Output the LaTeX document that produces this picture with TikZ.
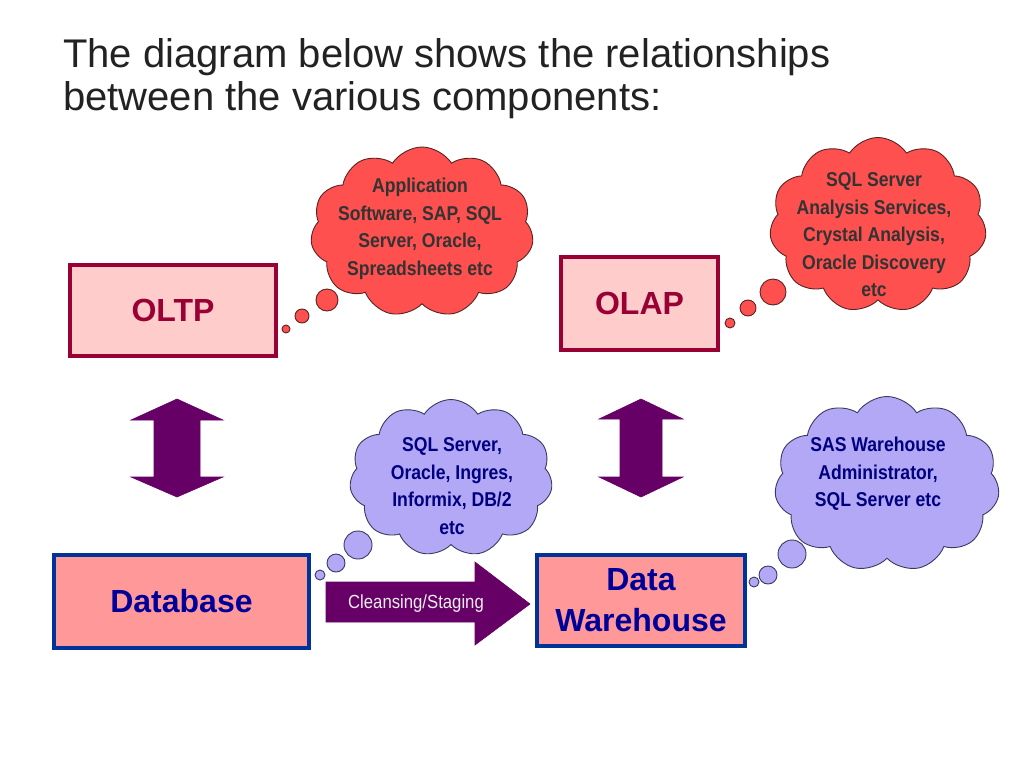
\documentclass[tikz,border=0pt]{standalone}
\usepackage{fontspec}
\setmainfont{Liberation Sans}
\newfontfamily\narrowfont[FakeStretch=0.88]{Liberation Sans}
\usetikzlibrary{shapes.symbols}
\definecolor{titlegrey}{HTML}{222222}
\definecolor{oltpred}{HTML}{990033}
\definecolor{oltpfill}{HTML}{FFCCCC}
\definecolor{dbblue}{HTML}{003399}
\definecolor{dbfill}{HTML}{FF9999}
\definecolor{dbtext}{HTML}{000099}
\definecolor{arrowpurple}{HTML}{660066}
\definecolor{cloudred}{HTML}{FF5050}
\definecolor{cloudredline}{HTML}{5A2222}
\definecolor{cloudlav}{HTML}{B3A8F5}
\definecolor{cloudlavline}{HTML}{3A3A60}
\definecolor{redtext}{HTML}{333333}
\definecolor{lavtext}{HTML}{000080}
\tikzset{
  titletext/.style={anchor=base west, inner sep=0pt, text=titlegrey, font=\fontsize{40}{43}\selectfont},
  redbox/.style={draw=oltpred, line width=4pt, fill=oltpfill, text=oltpred, inner sep=0pt,
    font=\fontsize{32}{36}\selectfont\bfseries},
  bluebox/.style={draw=dbblue, line width=4pt, fill=dbfill, text=dbtext, inner sep=0pt, align=center,
    font=\fontsize{32}{41}\selectfont\bfseries},
  cloudbase/.style={cloud, cloud puffs=11, cloud puff arc=115, cloud ignores aspect, line width=0.9pt, inner sep=0pt},
  redcloud/.style={cloudbase, draw=cloudredline, fill=cloudred},
  lavcloud/.style={cloudbase, draw=cloudlavline, fill=cloudlav},
  redbubble/.style={circle, inner sep=0pt, draw=cloudredline, fill=cloudred, line width=0.9pt},
  lavbubble/.style={circle, inner sep=0pt, draw=cloudlavline, fill=cloudlav, line width=0.9pt},
  cloudtext/.style={align=center, inner sep=0pt, font=\narrowfont\fontsize{20}{27.5}\selectfont\bfseries},
  dblarrow/.style={fill=arrowpurple, draw=arrowpurple, line width=0.6pt, line join=miter},
}
\begin{document}
\begin{tikzpicture}[x=1pt,y=-1pt]
\useasboundingbox[fill=white] (0,0) rectangle (1024,768);

% title
\node[titletext] (title1) at (63,67) {The diagram below shows the relationships};
\node[titletext] (title2) at (63,110) {between the various components:};

% boxes
\node[redbox, minimum width=206, minimum height=91] (oltp) at (173,310.5) {OLTP};
\node[redbox, minimum width=157, minimum height=93] (olap) at (639.5,303.5) {OLAP};
\node[bluebox, minimum width=255, minimum height=93] (db) at (181.5,601.5) {Database};
\node[bluebox, minimum width=208, minimum height=91] (dw) at (641,600.5) {Data\\Warehouse};

% clouds (red)
\node[redcloud, minimum width=223, minimum height=170] (c1) at (422,232) {};
\node[redbubble, minimum size=22] (c1b1) at (327,300) {};
\node[redbubble, minimum size=14] (c1b2) at (302,316) {};
\node[redbubble, minimum size=8] (c1b3) at (286,329) {};
\node[cloudtext, text=redtext] (c1t) at (420,229) {Application\\Software, SAP, SQL\\Server, Oracle,\\Spreadsheets etc};

\node[redcloud, minimum width=217, minimum height=175] (c2) at (878,225) {};
\node[redbubble, minimum size=26] (c2b1) at (773,292) {};
\node[redbubble, minimum size=16] (c2b2) at (748,308) {};
\node[redbubble, minimum size=10] (c2b3) at (730,323) {};
\node[cloudtext, text=redtext] (c2t) at (874,235) {SQL Server\\Analysis Services,\\Crystal Analysis,\\Oracle Discovery\\etc};

% clouds (lavender)
\node[lavcloud, minimum width=203, minimum height=157] (c3) at (451,478) {};
\node[lavbubble, minimum size=28] (c3b1) at (358,545) {};
\node[lavbubble, minimum size=18] (c3b2) at (336,563) {};
\node[lavbubble, minimum size=10] (c3b3) at (320,575) {};
\node[cloudtext, text=lavtext] (c3t) at (452,486) {SQL Server,\\Oracle, Ingres,\\Informix, DB/2\\etc};

\node[lavcloud, minimum width=225, minimum height=175] (c4) at (887,484) {};
\node[lavbubble, minimum size=28] (c4b1) at (792,554) {};
\node[lavbubble, minimum size=18] (c4b2) at (768,575) {};
\node[lavbubble, minimum size=10] (c4b3) at (754,582) {};
\node[cloudtext, text=lavtext] (c4t) at (878,474) {SAS Warehouse\\Administrator,\\SQL Server etc};

% vertical double arrows
\coordinate (la) at (177,448);
\begin{scope}[shift={(la)}]
\draw[dblarrow] (0,-49) -- (46,-28) -- (23,-28) -- (23,29) -- (46,29) -- (0,49)
  -- (-46,29) -- (-23,29) -- (-23,-28) -- (-46,-28) -- cycle;
\end{scope}
\coordinate (ra) at (641,448);
\begin{scope}[shift={(ra)}]
\draw[dblarrow] (0,-49) -- (42,-29) -- (21,-29) -- (21,29) -- (42,29) -- (0,49)
  -- (-42,29) -- (-21,29) -- (-21,-29) -- (-42,-29) -- cycle;
\end{scope}

% cleansing arrow
\draw[dblarrow] (326,582) -- (475,582) -- (475,562) -- (530,604) -- (475,645) -- (475,622) -- (326,622) -- cycle;
\node[inner sep=0pt, text=white!93!black, font=\narrowfont\fontsize{19}{22}\selectfont] (cs) at (416,604) {Cleansing/Staging};
\end{tikzpicture}
\end{document}
